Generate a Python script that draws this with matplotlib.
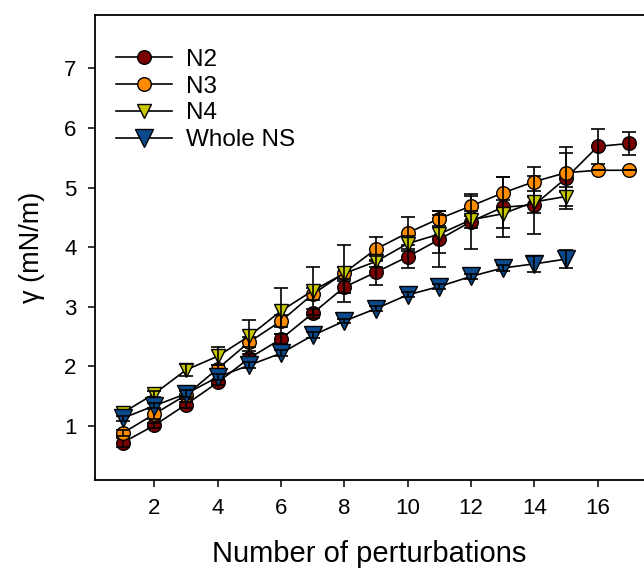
import matplotlib
matplotlib.use("Agg")
import matplotlib.pyplot as plt

plt.rcParams['font.family'] = ['Liberation Sans', 'DejaVu Sans']

# Surface tension vs. number of perturbations
perturb = list(range(1, 18))

n2 = [0.72, 1.01, 1.36, 1.73, 2.14, 2.46, 2.89, 3.33, 3.58, 3.84, 4.13, 4.43,
      4.67, 4.71, 5.16, 5.69, 5.74]
n2_err = [0.08, 0.04, 0.05, 0.05, 0.06, 0.08, 0.07, 0.10, 0.21, 0.19, 0.47, 0.46,
          0.50, 0.49, 0.52, 0.29, 0.20]

n3 = [0.88, 1.20, 1.52, 1.96, 2.41, 2.76, 3.21, 3.57, 3.97, 4.24, 4.48, 4.69,
      4.91, 5.10, 5.25, 5.29, 5.29]
n3_err = [0.05, 0.08, 0.06, 0.06, 0.08, 0.10, 0.10, 0.10, 0.20, 0.27, 0.12, 0.17,
          0.27, 0.25, 0.33, 0.0, 0.0]

n4 = [1.22, 1.54, 1.94, 2.17, 2.51, 2.93, 3.27, 3.56, 3.76, 4.06, 4.22, 4.46,
      4.56, 4.76, 4.85]
n4_err = [0.05, 0.05, 0.10, 0.15, 0.26, 0.38, 0.40, 0.48, 0.10, 0.12, 0.32, 0.14,
          0.23, 0.19, 0.16]

whole = [1.13, 1.34, 1.54, 1.82, 2.02, 2.22, 2.52, 2.76, 2.97, 3.20, 3.34, 3.51,
         3.65, 3.72, 3.80]
whole_err = [0.04, 0.04, 0.06, 0.05, 0.05, 0.05, 0.05, 0.04, 0.04, 0.04, 0.05,
             0.04, 0.05, 0.14, 0.15]

x_ticks = [2, 4, 6, 8, 10, 12, 14, 16]
y_ticks = [1, 2, 3, 4, 5, 6, 7]

series = [
    ("N2", n2, n2_err, "o", "#7a0000", 9.8),
    ("N3", n3, n3_err, "o", "#ff8c00", 9.8),
    ("N4", n4, n4_err, "v", "#c8c800", 10.0),
    ("Whole NS", whole, whole_err, "v", "#0a4a8c", 12.5),
]

fig = plt.figure(figsize=(6.44, 5.72), dpi=100)
ax = fig.add_axes([94.5 / 644, (572 - 480) / 572, (644 - 94.5) / 644, (480 - 14.7) / 572])

for i, (name, y, err, mk, col, ms) in enumerate(series):
    xs = perturb[:len(y)]
    z = 2 + i
    ax.plot(xs, y, color="black", lw=1.2, marker=mk, markersize=ms,
            markerfacecolor=col, markeredgecolor="black", markeredgewidth=1.0,
            label=name, zorder=z)
    ax.errorbar(xs, y, yerr=err, fmt="none", ecolor="black", elinewidth=1.2,
                capsize=5, capthick=1.2, zorder=z + 0.5)

ax.set_xlim(0.112, 17.46)
ax.set_ylim(0.094, 7.90)
ax.set_xticks(x_ticks)
ax.set_yticks(y_ticks)
ax.tick_params(direction="out", length=5, width=1.1, labelsize=16, pad=8)
ax.tick_params(axis="y", labelsize=16)
ax.spines["right"].set_visible(False)
for side in ("left", "bottom", "top"):
    ax.spines[side].set_linewidth(1.3)

ax.set_xlabel("Number of perturbations", fontsize=21, labelpad=15)
ax.set_ylabel("γ (mN/m)", fontsize=19.5, labelpad=14)

leg = ax.legend(loc="upper left", bbox_to_anchor=(0.04, 0.927), frameon=False,
                fontsize=17.5, handlelength=2.3, handletextpad=0.55,
                labelspacing=0.2, borderaxespad=0, borderpad=0)

fig.savefig("out.png", dpi=100)
